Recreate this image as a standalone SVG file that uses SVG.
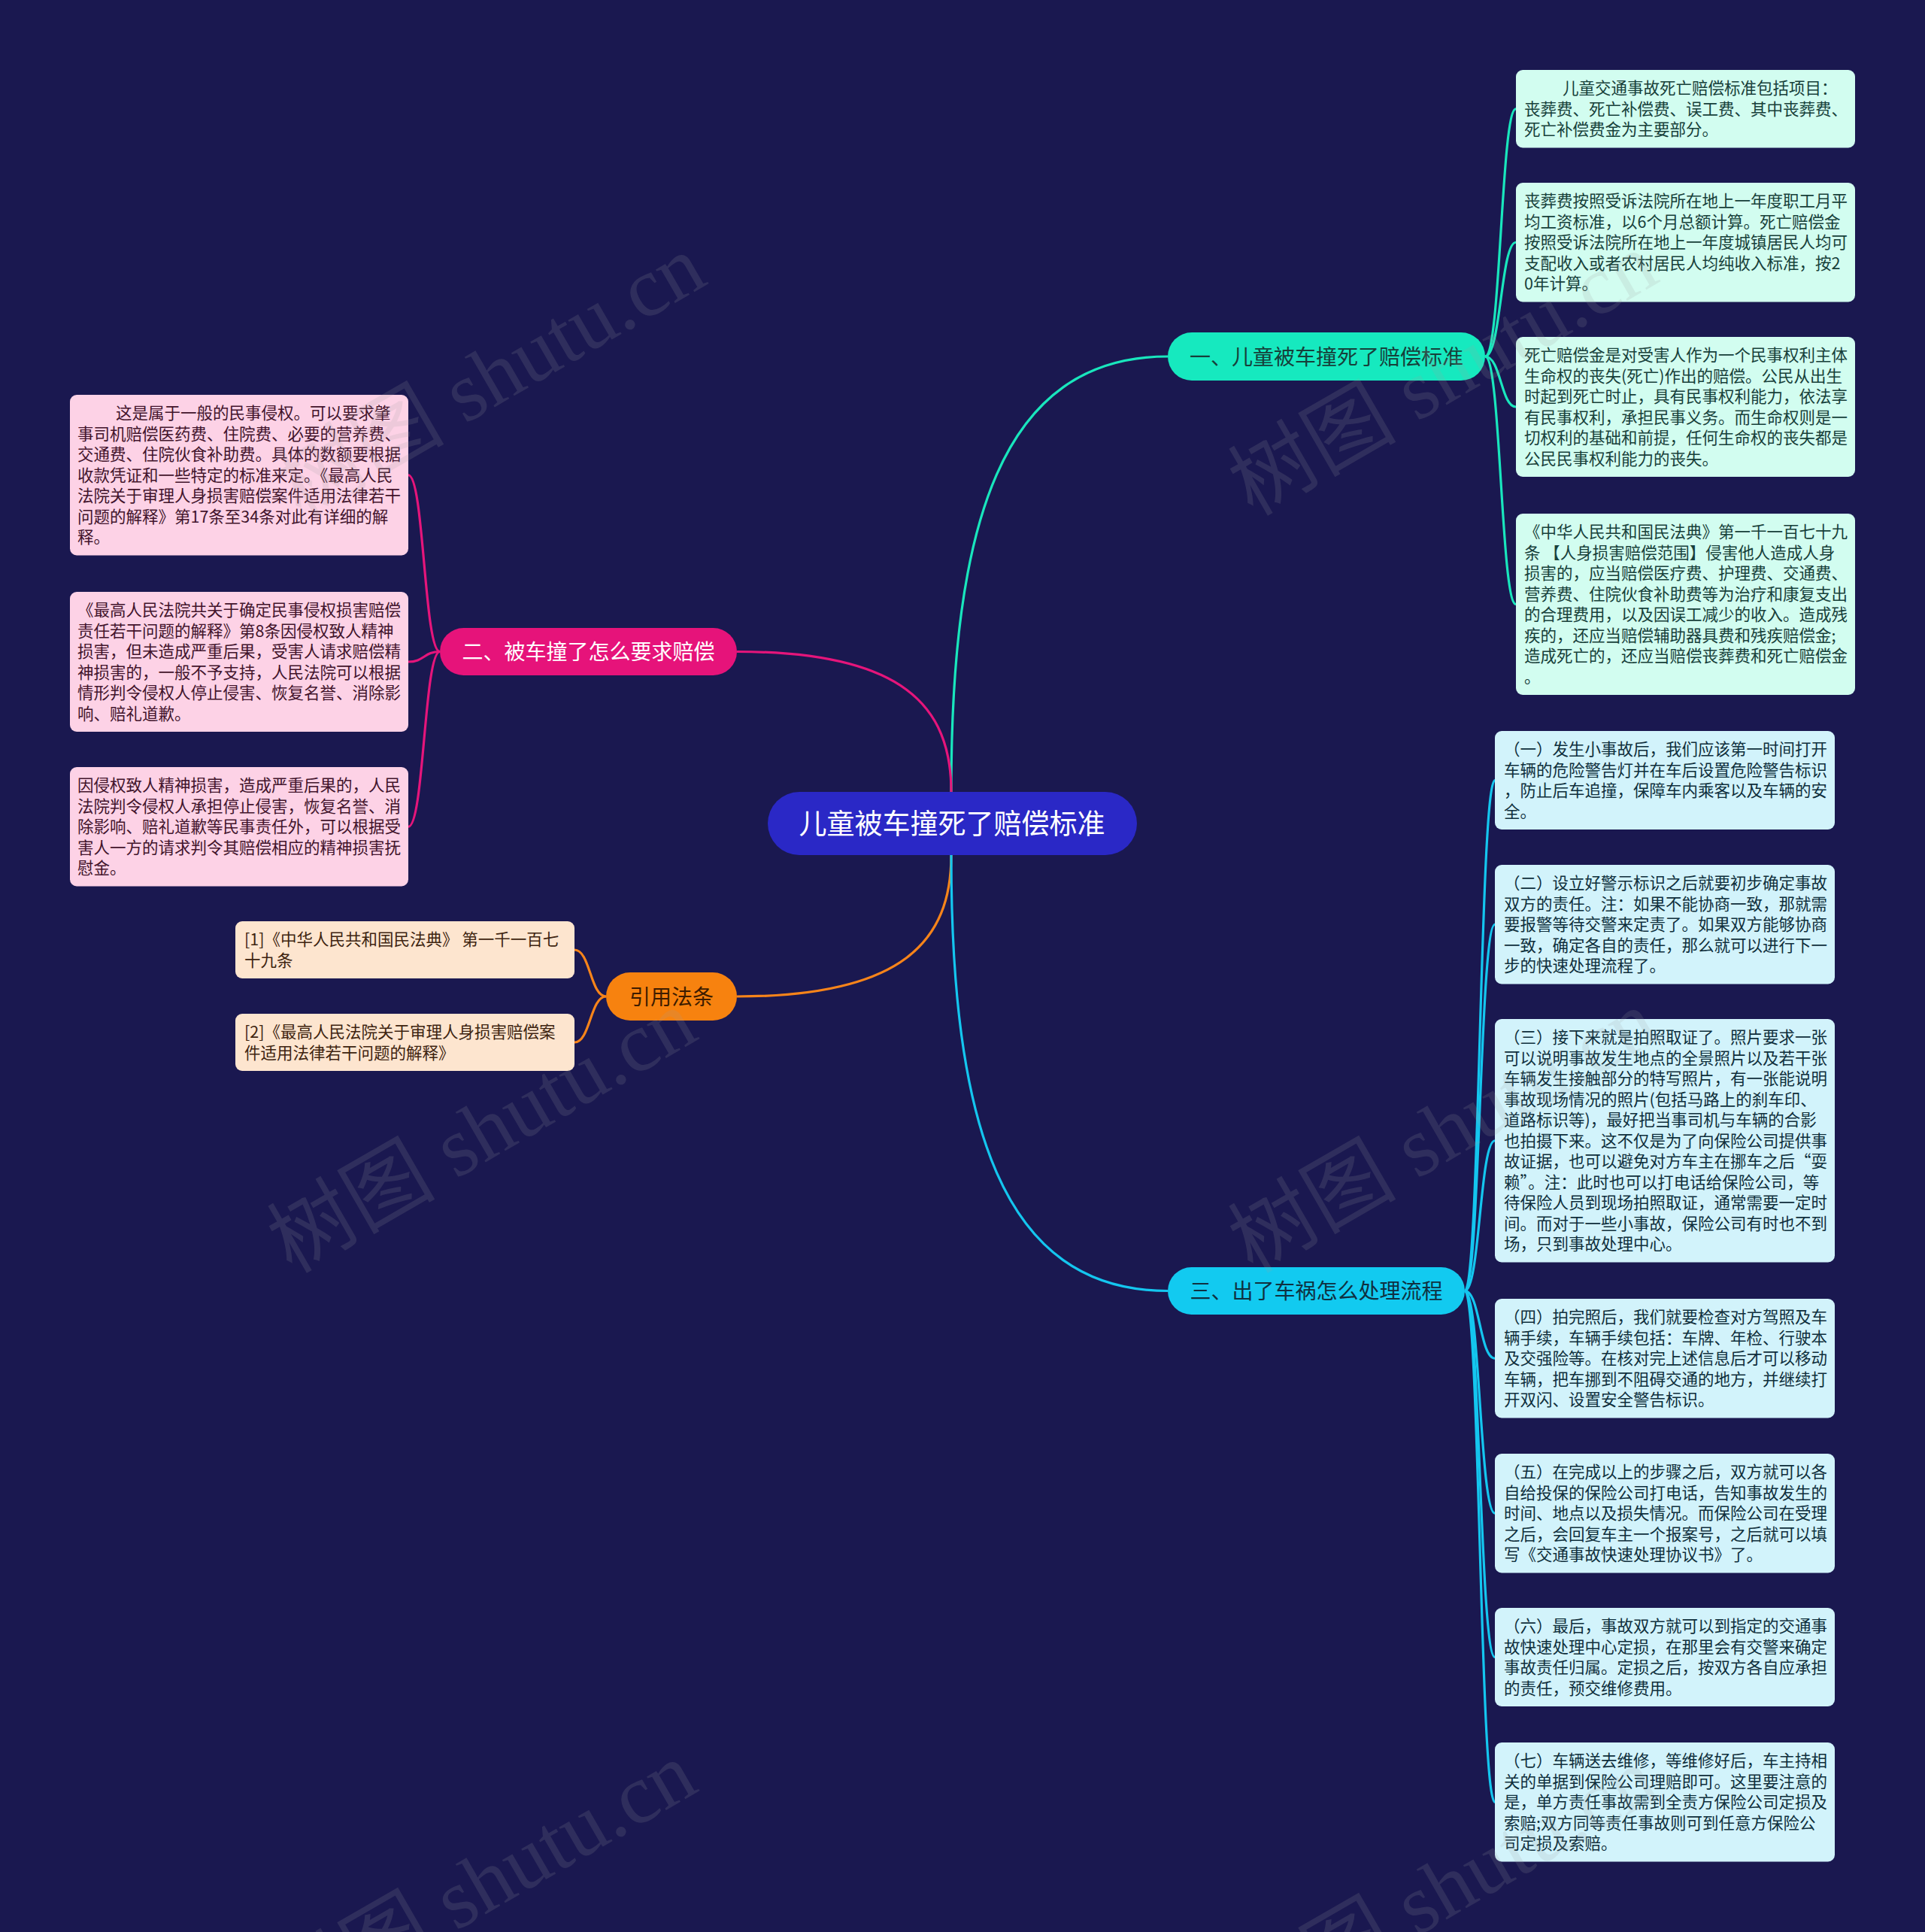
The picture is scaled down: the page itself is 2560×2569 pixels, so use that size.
<svg xmlns="http://www.w3.org/2000/svg" width="2560" height="2569" viewBox="0 0 2560 2569">
<style>
.t{font-family:"Noto Sans CJK SC","Noto Sans",sans-serif;font-size:21.5px}
.lg{fill:#d2fdf0}.lgt{fill:#17403a}
.lc{fill:#d2f3fb}.lct{fill:#0f2f3c}
.lp{fill:#fdd2e6}.lpt{fill:#42142c}
.lo{fill:#fde5cf}.lot{fill:#3e2410}
.pt{font-family:"Noto Sans CJK SC","Noto Sans",sans-serif;font-size:28px;text-anchor:middle}
.c{fill:none;stroke-width:3.2}
.wm{font-family:"Liberation Serif","Noto Sans CJK SC",serif;font-size:112px;fill:#a0a0a0;opacity:0.16}
</style>
<rect width="2560" height="2569" fill="#1a1850"/>
<g id="connectors">
<path class="c" stroke="#19e6bd" d="M1265,1053 C1265,700 1330,474 1553,474"/>
<path class="c" stroke="#e5157b" d="M1265,1053 C1265,939 1201,866.5 980,866.5"/>
<path class="c" stroke="#f7841a" d="M1265,1137 C1265,1251 1201,1325 980,1325"/>
<path class="c" stroke="#14c6ef" d="M1265,1137 C1265,1490 1330,1716.5 1553,1716.5"/>
<g stroke="#19e6bd" class="c" fill="none">
<path class="c" d="M1975,474 C1996,474 1996,144.75 2016,144.75"/>
<path class="c" d="M1975,474 C1996,474 1996,322.25 2016,322.25"/>
<path class="c" d="M1975,474 C1996,474 1996,541 2016,541"/>
<path class="c" d="M1975,474 C1996,474 1996,803.5 2016,803.5"/>
</g>
<g stroke="#14c6ef" class="c" fill="none">
<path class="c" d="M1948,1716.5 C1968,1716.5 1968,1037.5 1988,1037.5"/>
<path class="c" d="M1948,1716.5 C1968,1716.5 1968,1229.25 1988,1229.25"/>
<path class="c" d="M1948,1716.5 C1968,1716.5 1968,1516.75 1988,1516.75"/>
<path class="c" d="M1948,1716.5 C1968,1716.5 1968,1806.25 1988,1806.25"/>
<path class="c" d="M1948,1716.5 C1968,1716.5 1968,2012.25 1988,2012.25"/>
<path class="c" d="M1948,1716.5 C1968,1716.5 1968,2203.5 1988,2203.5"/>
<path class="c" d="M1948,1716.5 C1968,1716.5 1968,2396.25 1988,2396.25"/>
</g>
<g stroke="#e5157b" class="c" fill="none">
<path class="c" d="M585,866.5 C564,866.5 564,631.75 543,631.75"/>
<path class="c" d="M585,866.5 C564,866.5 564,880 543,880"/>
<path class="c" d="M585,866.5 C564,866.5 564,1099.25 543,1099.25"/>
</g>
<g stroke="#f7841a" class="c" fill="none">
<path class="c" d="M806,1325 C785,1325 785,1263 764,1263"/>
<path class="c" d="M806,1325 C785,1325 785,1386 764,1386"/>
</g>
</g>

<g id="center">
<rect x="1021" y="1053" width="491" height="84" rx="42" fill="#2a28c6"/>
<text class="pt" x="1266" y="1109" style="font-size:37px" fill="#ffffff">儿童被车撞死了赔偿标准</text>
</g>
<g id="branch1">
<rect x="1553" y="442" width="422" height="64" rx="32" fill="#16e9bf"/>
<text class="pt" x="1764" y="484.6" fill="#16403a">一、儿童被车撞死了赔偿标准</text>
</g>
<g id="branch2">
<rect x="585" y="835" width="395" height="63" rx="31.5" fill="#e6137a"/>
<text class="pt" x="782.5" y="877" fill="#ffffff">二、被车撞了怎么要求赔偿</text>
</g>
<g id="branch-cite">
<rect x="806" y="1293" width="174" height="64" rx="32" fill="#f7820f"/>
<text class="pt" x="893" y="1335.6" fill="#3d1c00">引用法条</text>
</g>
<g id="branch3">
<rect x="1553" y="1685" width="395" height="63" rx="31.5" fill="#12caf0"/>
<text class="pt" x="1750.5" y="1727" fill="#0f3040">三、出了车祸怎么处理流程</text>
</g>

<g id="leaf-1a">
<rect class="lg" x="2016" y="93" width="451" height="103.5" rx="9"/>
<text class="t lgt"><tspan x="2078" y="125.4">儿童交通事故死亡赔偿标准包括项目：</tspan><tspan x="2027" dy="27.5">丧葬费、死亡补偿费、误工费、其中丧葬费、</tspan><tspan x="2027" dy="27.5">死亡补偿费金为主要部分。</tspan></text>
</g>
<g id="leaf-1b">
<rect class="lg" x="2016" y="243" width="451" height="158.5" rx="9"/>
<text class="t lgt"><tspan x="2027" y="275.4">丧葬费按照受诉法院所在地上一年度职工月平</tspan><tspan x="2027" dy="27.5">均工资标准，以6个月总额计算。死亡赔偿金</tspan><tspan x="2027" dy="27.5">按照受诉法院所在地上一年度城镇居民人均可</tspan><tspan x="2027" dy="27.5">支配收入或者农村居民人均纯收入标准，按2</tspan><tspan x="2027" dy="27.5">0年计算。</tspan></text>
</g>
<g id="leaf-1c">
<rect class="lg" x="2016" y="448" width="451" height="186" rx="9"/>
<text class="t lgt"><tspan x="2027" y="480.4">死亡赔偿金是对受害人作为一个民事权利主体</tspan><tspan x="2027" dy="27.5">生命权的丧失(死亡)作出的赔偿。公民从出生</tspan><tspan x="2027" dy="27.5">时起到死亡时止，具有民事权利能力，依法享</tspan><tspan x="2027" dy="27.5">有民事权利，承担民事义务。而生命权则是一</tspan><tspan x="2027" dy="27.5">切权利的基础和前提，任何生命权的丧失都是</tspan><tspan x="2027" dy="27.5">公民民事权利能力的丧失。</tspan></text>
</g>
<g id="leaf-1d">
<rect class="lg" x="2016" y="683" width="451" height="241" rx="9"/>
<text class="t lgt"><tspan x="2027" y="715.4">《中华人民共和国民法典》第一千一百七十九</tspan><tspan x="2027" dy="27.5">条 【人身损害赔偿范围】侵害他人造成人身</tspan><tspan x="2027" dy="27.5">损害的，应当赔偿医疗费、护理费、交通费、</tspan><tspan x="2027" dy="27.5">营养费、住院伙食补助费等为治疗和康复支出</tspan><tspan x="2027" dy="27.5">的合理费用，以及因误工减少的收入。造成残</tspan><tspan x="2027" dy="27.5">疾的，还应当赔偿辅助器具费和残疾赔偿金;</tspan><tspan x="2027" dy="27.5">造成死亡的，还应当赔偿丧葬费和死亡赔偿金</tspan><tspan x="2027" dy="27.5">。</tspan></text>
</g>

<g id="leaf-p1">
<rect class="lc" x="1988" y="972" width="452" height="131" rx="9"/>
<text class="t lct"><tspan x="2000" y="1004.4">（一）发生小事故后，我们应该第一时间打开</tspan><tspan x="2000" dy="27.5">车辆的危险警告灯并在车后设置危险警告标识</tspan><tspan x="2000" dy="27.5">，防止后车追撞，保障车内乘客以及车辆的安</tspan><tspan x="2000" dy="27.5">全。</tspan></text>
</g>
<g id="leaf-p2">
<rect class="lc" x="1988" y="1150" width="452" height="158.5" rx="9"/>
<text class="t lct"><tspan x="2000" y="1182.4">（二）设立好警示标识之后就要初步确定事故</tspan><tspan x="2000" dy="27.5">双方的责任。注：如果不能协商一致，那就需</tspan><tspan x="2000" dy="27.5">要报警等待交警来定责了。如果双方能够协商</tspan><tspan x="2000" dy="27.5">一致，确定各自的责任，那么就可以进行下一</tspan><tspan x="2000" dy="27.5">步的快速处理流程了。</tspan></text>
</g>
<g id="leaf-p3">
<rect class="lc" x="1988" y="1355" width="452" height="323.5" rx="9"/>
<text class="t lct"><tspan x="2000" y="1387.4">（三）接下来就是拍照取证了。照片要求一张</tspan><tspan x="2000" dy="27.5">可以说明事故发生地点的全景照片以及若干张</tspan><tspan x="2000" dy="27.5">车辆发生接触部分的特写照片，有一张能说明</tspan><tspan x="2000" dy="27.5">事故现场情况的照片(包括马路上的刹车印、</tspan><tspan x="2000" dy="27.5">道路标识等)，最好把当事司机与车辆的合影</tspan><tspan x="2000" dy="27.5">也拍摄下来。这不仅是为了向保险公司提供事</tspan><tspan x="2000" dy="27.5">故证据，也可以避免对方车主在挪车之后“耍</tspan><tspan x="2000" dy="27.5">赖”。注：此时也可以打电话给保险公司，等</tspan><tspan x="2000" dy="27.5">待保险人员到现场拍照取证，通常需要一定时</tspan><tspan x="2000" dy="27.5">间。而对于一些小事故，保险公司有时也不到</tspan><tspan x="2000" dy="27.5">场，只到事故处理中心。</tspan></text>
</g>
<g id="leaf-p4">
<rect class="lc" x="1988" y="1727" width="452" height="158.5" rx="9"/>
<text class="t lct"><tspan x="2000" y="1759.4">（四）拍完照后，我们就要检查对方驾照及车</tspan><tspan x="2000" dy="27.5">辆手续，车辆手续包括：车牌、年检、行驶本</tspan><tspan x="2000" dy="27.5">及交强险等。在核对完上述信息后才可以移动</tspan><tspan x="2000" dy="27.5">车辆，把车挪到不阻碍交通的地方，并继续打</tspan><tspan x="2000" dy="27.5">开双闪、设置安全警告标识。</tspan></text>
</g>
<g id="leaf-p5">
<rect class="lc" x="1988" y="1933" width="452" height="158.5" rx="9"/>
<text class="t lct"><tspan x="2000" y="1965.4">（五）在完成以上的步骤之后，双方就可以各</tspan><tspan x="2000" dy="27.5">自给投保的保险公司打电话，告知事故发生的</tspan><tspan x="2000" dy="27.5">时间、地点以及损失情况。而保险公司在受理</tspan><tspan x="2000" dy="27.5">之后，会回复车主一个报案号，之后就可以填</tspan><tspan x="2000" dy="27.5">写《交通事故快速处理协议书》了。</tspan></text>
</g>
<g id="leaf-p6">
<rect class="lc" x="1988" y="2138" width="452" height="131" rx="9"/>
<text class="t lct"><tspan x="2000" y="2170.4">（六）最后，事故双方就可以到指定的交通事</tspan><tspan x="2000" dy="27.5">故快速处理中心定损，在那里会有交警来确定</tspan><tspan x="2000" dy="27.5">事故责任归属。定损之后，按双方各自应承担</tspan><tspan x="2000" dy="27.5">的责任，预交维修费用。</tspan></text>
</g>
<g id="leaf-p7">
<rect class="lc" x="1988" y="2317" width="452" height="158.5" rx="9"/>
<text class="t lct"><tspan x="2000" y="2349.4">（七）车辆送去维修，等维修好后，车主持相</tspan><tspan x="2000" dy="27.5">关的单据到保险公司理赔即可。这里要注意的</tspan><tspan x="2000" dy="27.5">是，单方责任事故需到全责方保险公司定损及</tspan><tspan x="2000" dy="27.5">索赔;双方同等责任事故则可到任意方保险公</tspan><tspan x="2000" dy="27.5">司定损及索赔。</tspan></text>
</g>

<g id="leaf-q1">
<rect class="lp" x="93" y="525" width="450" height="213.5" rx="9"/>
<text class="t lpt"><tspan x="154" y="557.4">这是属于一般的民事侵权。可以要求肇</tspan><tspan x="103" dy="27.5">事司机赔偿医药费、住院费、必要的营养费、</tspan><tspan x="103" dy="27.5">交通费、住院伙食补助费。具体的数额要根据</tspan><tspan x="103" dy="27.5">收款凭证和一些特定的标准来定。《最高人民</tspan><tspan x="103" dy="27.5">法院关于审理人身损害赔偿案件适用法律若干</tspan><tspan x="103" dy="27.5">问题的解释》第17条至34条对此有详细的解</tspan><tspan x="103" dy="27.5">释。</tspan></text>
</g>
<g id="leaf-q2">
<rect class="lp" x="93" y="787" width="450" height="186" rx="9"/>
<text class="t lpt"><tspan x="103" y="819.4">《最高人民法院共关于确定民事侵权损害赔偿</tspan><tspan x="103" dy="27.5">责任若干问题的解释》第8条因侵权致人精神</tspan><tspan x="103" dy="27.5">损害，但未造成严重后果，受害人请求赔偿精</tspan><tspan x="103" dy="27.5">神损害的，一般不予支持，人民法院可以根据</tspan><tspan x="103" dy="27.5">情形判令侵权人停止侵害、恢复名誉、消除影</tspan><tspan x="103" dy="27.5">响、赔礼道歉。</tspan></text>
</g>
<g id="leaf-q3">
<rect class="lp" x="93" y="1020" width="450" height="158.5" rx="9"/>
<text class="t lpt"><tspan x="103" y="1052.4">因侵权致人精神损害，造成严重后果的，人民</tspan><tspan x="103" dy="27.5">法院判令侵权人承担停止侵害，恢复名誉、消</tspan><tspan x="103" dy="27.5">除影响、赔礼道歉等民事责任外，可以根据受</tspan><tspan x="103" dy="27.5">害人一方的请求判令其赔偿相应的精神损害抚</tspan><tspan x="103" dy="27.5">慰金。</tspan></text>
</g>

<g id="leaf-r1">
<rect class="lo" x="313" y="1225" width="451" height="76" rx="9"/>
<text class="t lot"><tspan x="325" y="1257.4">[1]《中华人民共和国民法典》 第一千一百七</tspan><tspan x="325" dy="27.5">十九条</tspan></text>
</g>
<g id="leaf-r2">
<rect class="lo" x="313" y="1348" width="451" height="76" rx="9"/>
<text class="t lot"><tspan x="325" y="1380.4">[2]《最高人民法院关于审理人身损害赔偿案</tspan><tspan x="325" dy="27.5">件适用法律若干问题的解释》</tspan></text>
</g>

<g id="watermark">
<text class="wm" transform="translate(659,511) rotate(-30)" text-anchor="middle" dominant-baseline="middle">树图 shutu.cn</text>
<text class="wm" transform="translate(1925,508) rotate(-30)" text-anchor="middle" dominant-baseline="middle">树图 shutu.cn</text>
<text class="wm" transform="translate(647,1515) rotate(-30)" text-anchor="middle" dominant-baseline="middle">树图 shutu.cn</text>
<text class="wm" transform="translate(1925,1515) rotate(-30)" text-anchor="middle" dominant-baseline="middle">树图 shutu.cn</text>
<text class="wm" transform="translate(647,2515) rotate(-30)" text-anchor="middle" dominant-baseline="middle">树图 shutu.cn</text>
<text class="wm" transform="translate(1925,2522) rotate(-30)" text-anchor="middle" dominant-baseline="middle">树图 shutu.cn</text>
</g>
</svg>
